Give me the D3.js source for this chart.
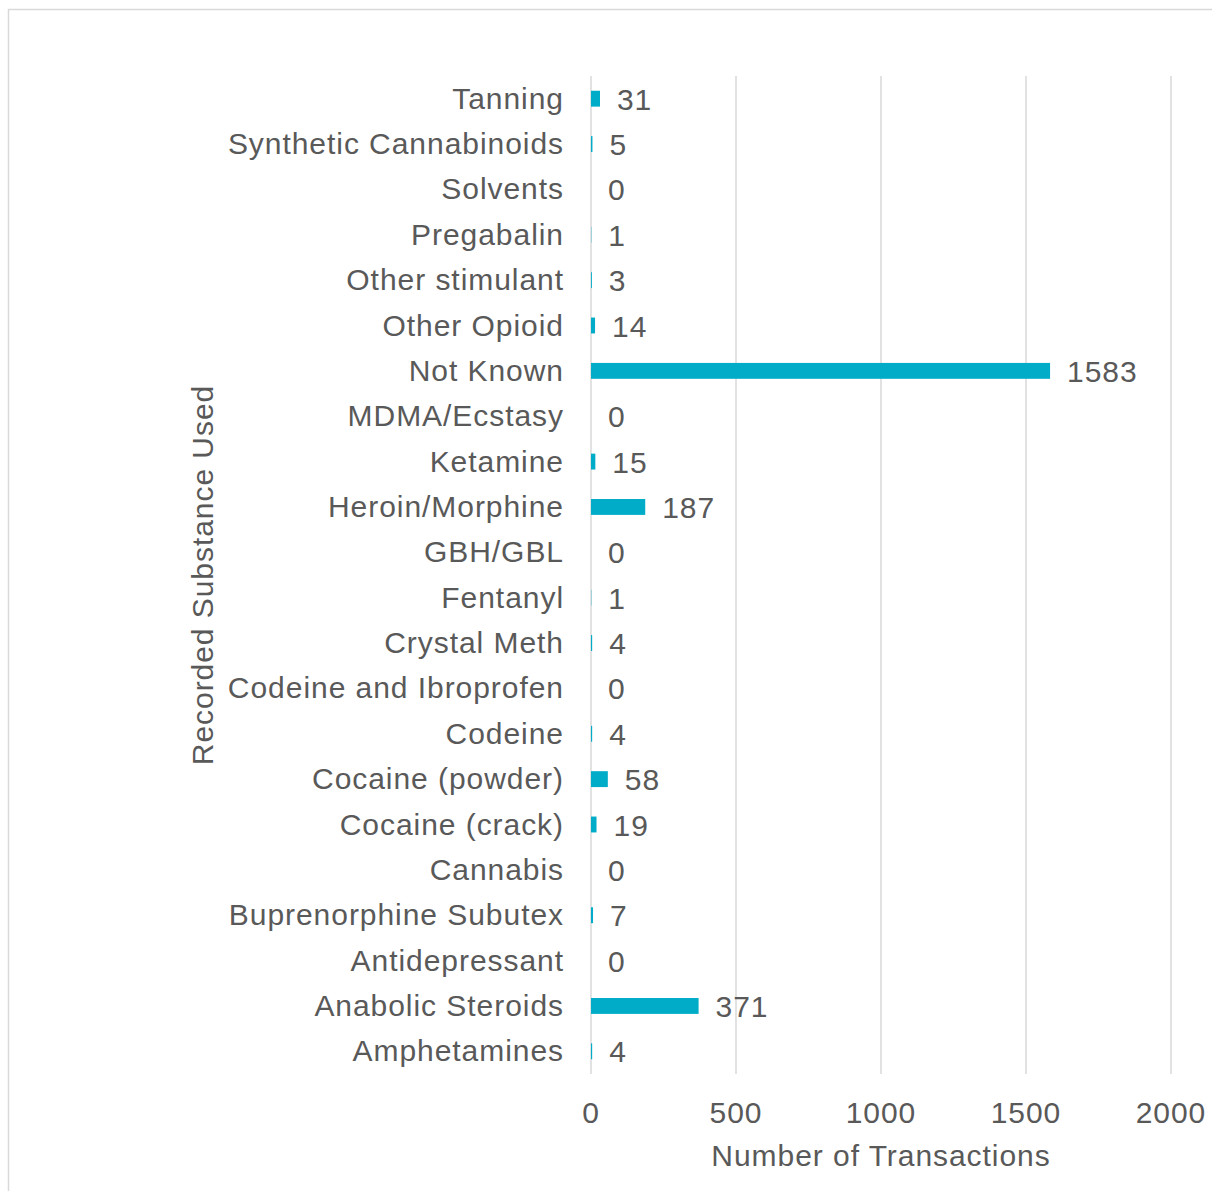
<!DOCTYPE html>
<html>
<head>
<meta charset="utf-8">
<script src="https://cdn.jsdelivr.net/npm/d3@7/dist/d3.min.js"></script>
<style>
  html, body { margin: 0; padding: 0; background: #fff; }
  svg { display: block; }
  text { font-family: "Liberation Sans", Arial, sans-serif; fill: #595959; letter-spacing: 0.95px; }
</style>
</head>
<body>
<svg id="chart" width="1212" height="1191"></svg>
<script>
const categories = ["Tanning","Synthetic Cannabinoids","Solvents","Pregabalin","Other stimulant","Other Opioid","Not Known","MDMA/Ecstasy","Ketamine","Heroin/Morphine","GBH/GBL","Fentanyl","Crystal Meth","Codeine and Ibroprofen","Codeine","Cocaine (powder)","Cocaine (crack)","Cannabis","Buprenorphine Subutex","Antidepressant","Anabolic Steroids","Amphetamines"];
const values = [31,5,0,1,3,14,1583,0,15,187,0,1,4,0,4,58,19,0,7,0,371,4];
const xTicks = [0,500,1000,1500,2000];
const xTitle = "Number of Transactions";
const yTitle = "Recorded Substance Used";

const svg = d3.select("#chart");
const fs = 30;

// outer border
svg.append("rect").attr("x", 8.5).attr("y", 9.5).attr("width", 1300).attr("height", 1300)
  .attr("fill", "none").attr("stroke", "#d9d9d9").attr("stroke-width", 1.5);

const x = d3.scaleLinear().domain([0, 2000]).range([591, 1171]);
const y = d3.scaleBand().domain(categories).range([76, 1074]).paddingInner(0.65).paddingOuter(0.325);

// gridlines
svg.append("g").selectAll("line").data(xTicks).join("line")
  .attr("x1", d => x(d)).attr("x2", d => x(d))
  .attr("y1", 76).attr("y2", 1074)
  .attr("stroke", "#d9d9d9").attr("stroke-width", 1.5);

// bars
svg.append("g").selectAll("rect").data(values).join("rect")
  .attr("x", x(0))
  .attr("y", (d, i) => y(categories[i]))
  .attr("width", d => x(d) - x(0))
  .attr("height", y.bandwidth())
  .attr("fill", "#00ACC8");

// value labels
svg.append("g").selectAll("text").data(values).join("text")
  .attr("x", d => x(d) + 17)
  .attr("y", (d, i) => y(categories[i]) + y.bandwidth() / 2 + 11)
  .attr("font-size", fs)
  .text(d => d);

// category labels
svg.append("g").selectAll("text").data(categories).join("text")
  .attr("x", 564)
  .attr("y", d => y(d) + y.bandwidth() / 2 + 10)
  .attr("text-anchor", "end")
  .attr("font-size", fs)
  .text(d => d);

// x tick labels
svg.append("g").selectAll("text").data(xTicks).join("text")
  .attr("x", d => x(d))
  .attr("y", 1123)
  .attr("text-anchor", "middle")
  .attr("font-size", fs)
  .text(d => d);

// x title
svg.append("text").attr("x", 881).attr("y", 1166).attr("text-anchor", "middle")
  .attr("font-size", fs).text(xTitle);

// y title
svg.append("text").attr("transform", "translate(213,575) rotate(-90)")
  .attr("text-anchor", "middle").attr("font-size", fs).text(yTitle);
</script>
</body>
</html>
